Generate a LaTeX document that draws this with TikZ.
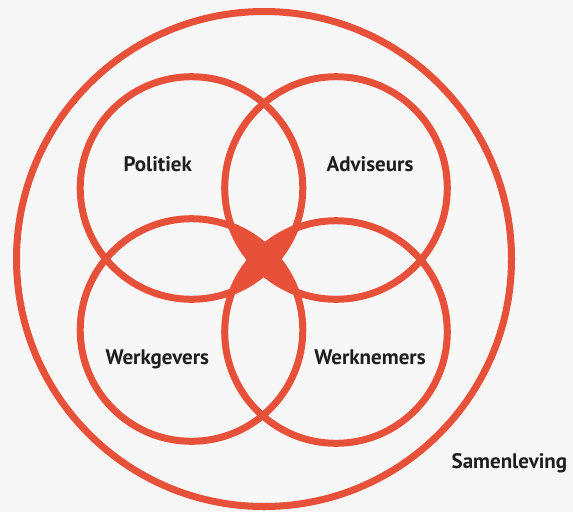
\documentclass[tikz,border=0pt]{standalone}
\usepackage{fontspec}
\setmainfont{PT Sans}
\definecolor{vred}{HTML}{E85139}
\definecolor{bgc}{HTML}{F7F7F7}
\definecolor{txt}{HTML}{1E1E1E}
\begin{document}
\begin{tikzpicture}[x=1pt,y=-1pt,
  ring/.style={draw=vred,line width=7pt},
  lbl/.style={font=\fontsize{21}{24}\selectfont\bfseries,text=txt,anchor=base,inner sep=0pt}]
\fill[bgc] (0,0) rectangle (573,512);
\useasboundingbox (0,0) rectangle (573,512);
\def\rr{111.3}
\coordinate (P) at (191.5,188);
\coordinate (A) at (336,188);
\coordinate (G) at (191.5,330);
\coordinate (N) at (336,332);
\coordinate (S) at (264,259);
% filled centre
\begin{scope}
  \clip (P) circle (\rr);
  \fill[vred] (N) circle (\rr);
\end{scope}
\begin{scope}
  \clip (A) circle (\rr);
  \fill[vred] (G) circle (\rr);
\end{scope}
\draw[ring] (S) circle (247.5);
\draw[ring] (P) circle (\rr);
\draw[ring] (A) circle (\rr);
\draw[ring] (G) circle (\rr);
\draw[ring] (N) circle (\rr);
\node[lbl] (lp) at (157.7,171) {Politiek};
\node[lbl] (la) at (370,171) {Adviseurs};
\node[lbl] (lg) at (157.3,364) {Werkgevers};
\node[lbl] (ln) at (370,364) {Werknemers};
\node[lbl] (ls) at (509.4,468) {Samenleving};
\end{tikzpicture}
\end{document}
